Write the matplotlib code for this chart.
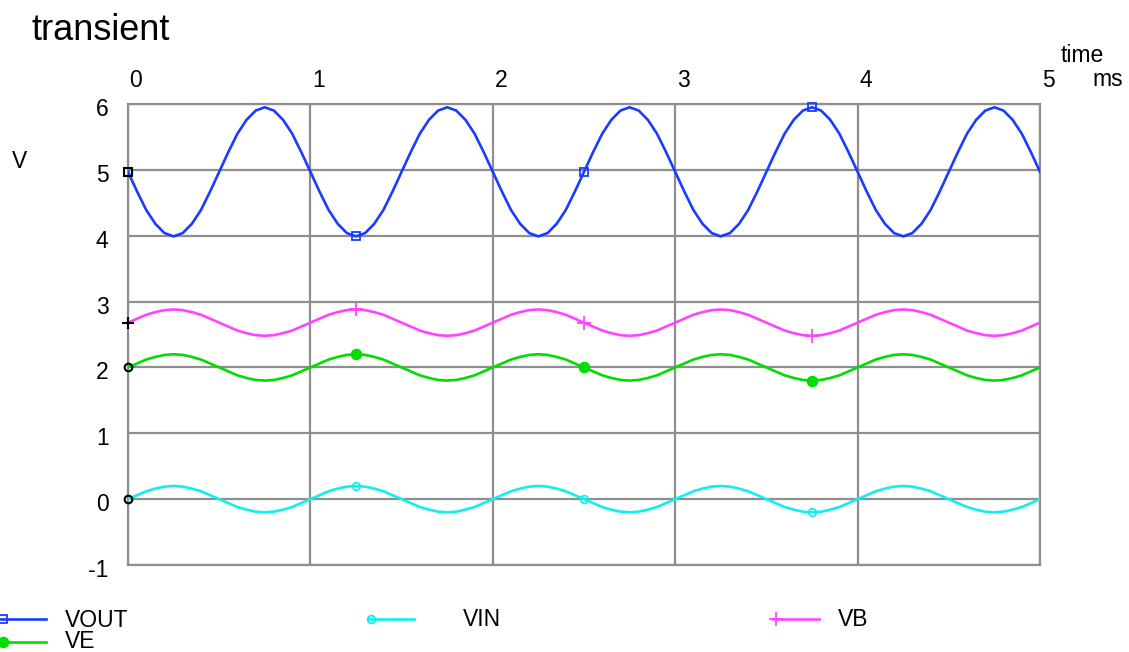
import matplotlib
matplotlib.use("Agg")
import matplotlib.pyplot as plt
import matplotlib.transforms as mtransforms
from matplotlib.lines import Line2D
import numpy as np

plt.rcParams['font.family'] = ['Liberation Sans', 'DejaVu Sans']
plt.rcParams['axes.unicode_minus'] = False

# time axis, ms (readings every 0.05 ms)
t = np.arange(101) * 0.05

# values, V
vout = [4.97, 4.67, 4.39, 4.18, 4.04, 3.99, 4.04, 4.18, 4.39, 4.67,
        4.97, 5.27, 5.55, 5.76, 5.90, 5.95, 5.90, 5.76, 5.55, 5.27,
        4.97, 4.67, 4.39, 4.18, 4.04, 3.99, 4.04, 4.18, 4.39, 4.67,
        4.97, 5.27, 5.55, 5.76, 5.90, 5.95, 5.90, 5.76, 5.55, 5.27,
        4.97, 4.67, 4.39, 4.18, 4.04, 3.99, 4.04, 4.18, 4.39, 4.67,
        4.97, 5.27, 5.55, 5.76, 5.90, 5.95, 5.90, 5.76, 5.55, 5.27,
        4.97, 4.67, 4.39, 4.18, 4.04, 3.99, 4.04, 4.18, 4.39, 4.67,
        4.97, 5.27, 5.55, 5.76, 5.90, 5.95, 5.90, 5.76, 5.55, 5.27,
        4.97, 4.67, 4.39, 4.18, 4.04, 3.99, 4.04, 4.18, 4.39, 4.67,
        4.97, 5.27, 5.55, 5.76, 5.90, 5.95, 5.90, 5.76, 5.55, 5.27,
        4.97]
vin = [0.00, 0.06, 0.12, 0.16, 0.19, 0.20, 0.19, 0.16, 0.12, 0.06,
       0.00, -0.06, -0.12, -0.16, -0.19, -0.20, -0.19, -0.16, -0.12, -0.06,
       0.00, 0.06, 0.12, 0.16, 0.19, 0.20, 0.19, 0.16, 0.12, 0.06,
       0.00, -0.06, -0.12, -0.16, -0.19, -0.20, -0.19, -0.16, -0.12, -0.06,
       0.00, 0.06, 0.12, 0.16, 0.19, 0.20, 0.19, 0.16, 0.12, 0.06,
       0.00, -0.06, -0.12, -0.16, -0.19, -0.20, -0.19, -0.16, -0.12, -0.06,
       0.00, 0.06, 0.12, 0.16, 0.19, 0.20, 0.19, 0.16, 0.12, 0.06,
       0.00, -0.06, -0.12, -0.16, -0.19, -0.20, -0.19, -0.16, -0.12, -0.06,
       0.00, 0.06, 0.12, 0.16, 0.19, 0.20, 0.19, 0.16, 0.12, 0.06,
       0.00, -0.06, -0.12, -0.16, -0.19, -0.20, -0.19, -0.16, -0.12, -0.06,
       0.00]
ve = [2.00, 2.06, 2.12, 2.16, 2.19, 2.20, 2.19, 2.16, 2.12, 2.06,
      2.00, 1.94, 1.88, 1.84, 1.81, 1.80, 1.81, 1.84, 1.88, 1.94,
      2.00, 2.06, 2.12, 2.16, 2.19, 2.20, 2.19, 2.16, 2.12, 2.06,
      2.00, 1.94, 1.88, 1.84, 1.81, 1.80, 1.81, 1.84, 1.88, 1.94,
      2.00, 2.06, 2.12, 2.16, 2.19, 2.20, 2.19, 2.16, 2.12, 2.06,
      2.00, 1.94, 1.88, 1.84, 1.81, 1.80, 1.81, 1.84, 1.88, 1.94,
      2.00, 2.06, 2.12, 2.16, 2.19, 2.20, 2.19, 2.16, 2.12, 2.06,
      2.00, 1.94, 1.88, 1.84, 1.81, 1.80, 1.81, 1.84, 1.88, 1.94,
      2.00, 2.06, 2.12, 2.16, 2.19, 2.20, 2.19, 2.16, 2.12, 2.06,
      2.00, 1.94, 1.88, 1.84, 1.81, 1.80, 1.81, 1.84, 1.88, 1.94,
      2.00]
vb = [2.68, 2.74, 2.80, 2.84, 2.87, 2.88, 2.87, 2.84, 2.80, 2.74,
      2.68, 2.62, 2.56, 2.52, 2.49, 2.48, 2.49, 2.52, 2.56, 2.62,
      2.68, 2.74, 2.80, 2.84, 2.87, 2.88, 2.87, 2.84, 2.80, 2.74,
      2.68, 2.62, 2.56, 2.52, 2.49, 2.48, 2.49, 2.52, 2.56, 2.62,
      2.68, 2.74, 2.80, 2.84, 2.87, 2.88, 2.87, 2.84, 2.80, 2.74,
      2.68, 2.62, 2.56, 2.52, 2.49, 2.48, 2.49, 2.52, 2.56, 2.62,
      2.68, 2.74, 2.80, 2.84, 2.87, 2.88, 2.87, 2.84, 2.80, 2.74,
      2.68, 2.62, 2.56, 2.52, 2.49, 2.48, 2.49, 2.52, 2.56, 2.62,
      2.68, 2.74, 2.80, 2.84, 2.87, 2.88, 2.87, 2.84, 2.80, 2.74,
      2.68, 2.62, 2.56, 2.52, 2.49, 2.48, 2.49, 2.52, 2.56, 2.62,
      2.68]

x_ticks = [0, 1, 2, 3, 4, 5]
y_ticks = [-1, 0, 1, 2, 3, 4, 5, 6]
marker_idx = [25, 50, 75]  # markers at 1.25, 2.5, 3.75 ms

series = [
    # name, values, colour, marker, filled
    ("VOUT", vout, "#1a3cff", "s", False),
    ("VIN", vin, "#11eeee", "o", False),
    ("VB", vb, "#ff44ff", "+", False),
    ("VE", ve, "#00dd00", "o", True),
]

W, H = 1129, 652
fs = 16.5
fig = plt.figure(figsize=(W / 100, H / 100), dpi=100)
ax = fig.add_axes([128 / W, 1 - 565 / H, 912 / W, 461 / H])

grid_col = "#8e8e8e"
ax.set_xlim(0, 5)
ax.set_ylim(-1, 6)
ax.set_xticks(x_ticks)
ax.set_yticks(y_ticks)
ax.grid(True, color=grid_col, linewidth=1.6)
for sp in ax.spines.values():
    sp.set_color(grid_col)
    sp.set_linewidth(1.6)
ax.xaxis.tick_top()
ax.tick_params(axis="both", length=0, labelsize=fs)
ax.tick_params(axis="x", pad=10)
ax.tick_params(axis="y", pad=14)
ax.set_axisbelow(True)

# top tick labels sit slightly right of their grid lines
offset = mtransforms.ScaledTranslation(8 / 100, -2 / 100, fig.dpi_scale_trans)
for lab in ax.get_xticklabels():
    lab.set_transform(lab.get_transform() + offset)
yoff = mtransforms.ScaledTranslation(0, -3 / 100, fig.dpi_scale_trans)
for lab in ax.get_yticklabels():
    lab.set_transform(lab.get_transform() + yoff)

for name, vals, col, mk, filled in series:
    vals = np.array(vals)
    ax.plot(t, vals, color=col, linewidth=1.9, zorder=3)
    mfc = col if filled else "none"
    ms = 7 if filled else 5.5
    ax.plot(t[marker_idx], vals[marker_idx], linestyle="none", marker=mk,
            color=col, markerfacecolor=mfc, markersize=ms if mk != "+" else 10,
            markeredgewidth=1.3, zorder=4, clip_on=False)
    ax.plot(t[:1], vals[:1], linestyle="none", marker=mk, color="black",
            markerfacecolor="none", markersize=5.5 if mk != "+" else 9,
            markeredgewidth=1.5, zorder=5, clip_on=False)

# labels
fig.text(32 / W, 1 - 40 / H, "transient", fontsize=26, va="baseline", ha="left")
fig.text(1082 / W, 1 - 55 / H, "time", fontsize=fs, va="center", ha="center")
fig.text(1108 / W, 1 - 80 / H, "ms", fontsize=fs, va="center", ha="center")
fig.text(20 / W, 1 - 162 / H, "V", fontsize=fs, va="center", ha="center")

# legend along the bottom
legend_pos = {
    "VOUT": (0, 619),
    "VIN": (368, 619),
    "VB": (773, 619),
    "VE": (0, 642),
}
for name, vals, col, mk, filled in series:
    x0, y0 = legend_pos[name]
    yy = 1 - y0 / H
    fig.add_artist(Line2D([x0 / W, (x0 + 46) / W], [yy, yy], color=col,
                          linewidth=1.9, transform=fig.transFigure))
    fig.add_artist(Line2D([(x0 + 3) / W], [yy], linestyle="none", marker=mk,
                          color=col, markerfacecolor=col if filled else "none",
                          markersize=(7 if filled else 5.5) if mk != "+" else 10,
                          markeredgewidth=1.3, transform=fig.transFigure))

# first legend column holds two names, stacked tightly
fig.text(65 / W, 1 - 631 / H, "VOUT\nVE", fontsize=fs, va="center", ha="left",
         linespacing=0.9)
fig.text(463 / W, 1 - 619 / H, "VIN", fontsize=fs, va="center", ha="left")
fig.text(838 / W, 1 - 619 / H, "VB", fontsize=fs, va="center", ha="left")

fig.savefig("out.png", dpi=100)
